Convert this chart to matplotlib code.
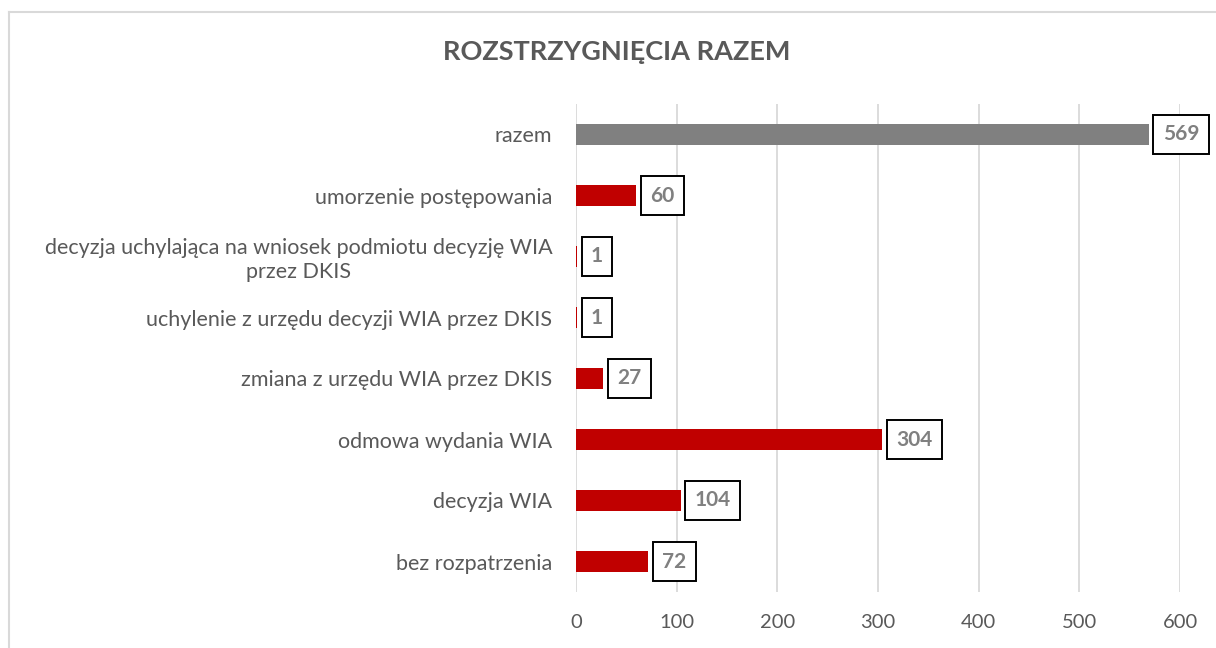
import matplotlib.pyplot as plt
from matplotlib.lines import Line2D

categories = [
    'bez rozpatrzenia',
    'decyzja WIA',
    'odmowa wydania WIA',
    'zmiana z urzędu WIA przez DKIS',
    'uchylenie z urzędu decyzji WIA przez DKIS',
    'decyzja uchylająca na wniosek podmiotu decyzję WIA\nprzez DKIS',
    'umorzenie postępowania',
    'razem',
]
values = [72, 104, 304, 27, 1, 1, 60, 569]
colors = ['#C00000'] * 7 + ['#808080']
x_ticks = [0, 100, 200, 300, 400, 500, 600]

plt.rcParams['font.family'] = ['Lato', 'DejaVu Sans']

fig = plt.figure(figsize=(12.16, 6.48), dpi=100)
ax = fig.add_axes([576 / 1216, 1 - 592 / 648, (1180 - 576) / 1216, (592 - 104) / 648])

pos = list(range(len(categories)))
ax.barh(pos, values, height=0.36, color=colors, zorder=3)

for i, v in zip(pos, values):
    ax.annotate(str(v), xy=(v, i), xytext=(10, 0), textcoords='offset points',
                ha='left', va='center', fontsize=15, fontweight='bold', color='#808080',
                bbox=dict(boxstyle='square,pad=0.45', fc='white', ec='black', lw=1.4),
                zorder=5)

ax.set_xlim(0, 600)
ax.set_ylim(-0.5, len(categories) - 0.5)
ax.set_xticks(x_ticks)
ax.set_yticks(pos)
ax.set_yticklabels(categories)
for lab in ax.get_yticklabels():
    lab.set_multialignment('center')
ax.tick_params(axis='y', length=0, pad=17, labelsize=15.5, labelcolor='#595959')
ax.tick_params(axis='x', length=0, pad=16, labelsize=14.5, labelcolor='#595959')
ax.grid(axis='x', color='#D9D9D9', linewidth=1.3, zorder=0)
for s in ax.spines.values():
    s.set_visible(False)

fig.text(617 / 1216, 1 - 52 / 648, 'ROZSTRZYGNIĘCIA RAZEM', ha='center', va='center',
         fontsize=19.5, fontweight='bold', color='#595959')

# ramka wykresu
fig.add_artist(Line2D([9 / 1216, 9 / 1216], [0, 1 - 12 / 648], color='#D9D9D9', lw=1.5))
fig.add_artist(Line2D([9 / 1216, 1], [1 - 12 / 648, 1 - 12 / 648], color='#D9D9D9', lw=1.5))

fig.savefig('out.png', dpi=100)
